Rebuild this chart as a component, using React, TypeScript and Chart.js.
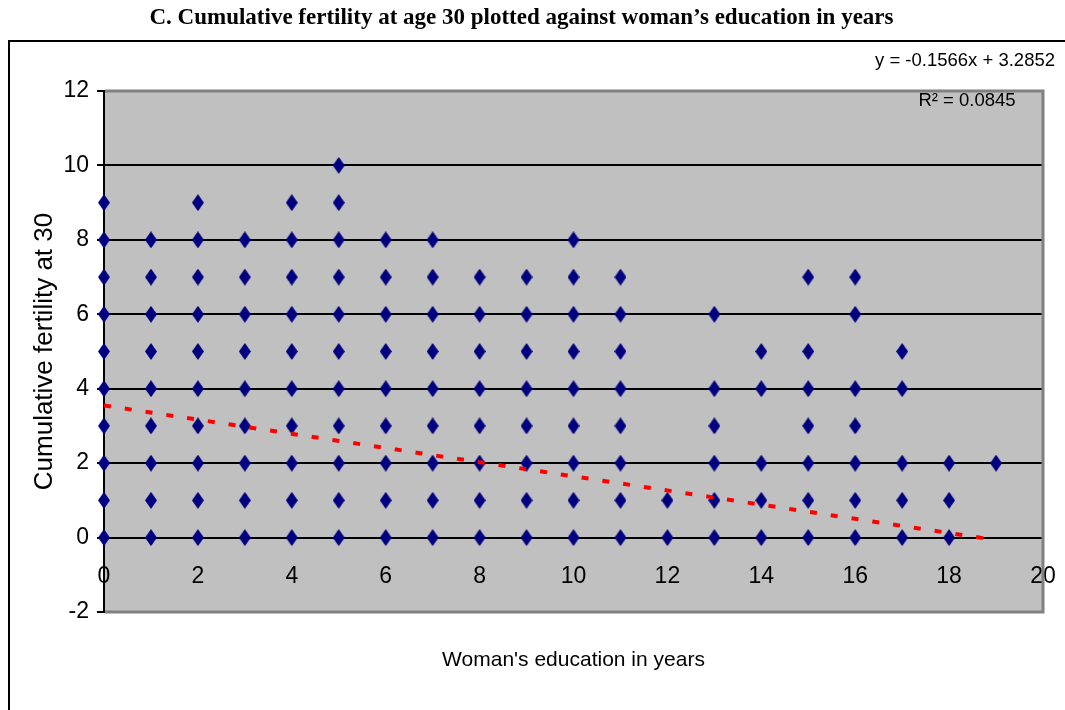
import React, { useEffect, useRef } from 'react';
import { Chart, registerables } from 'chart.js';

Chart.register(...registerables);

// ---------- text ----------
const chartTitle = 'C. Cumulative fertility at age 30 plotted against woman’s education in years';
const xAxisTitle = "Woman's education in years";
const yAxisTitle = 'Cumulative fertility at 30';
const trendEquation = 'y = -0.1566x + 3.2852';
const trendR2 = 'R² = 0.0845';

// ---------- data ----------
const educationYears = [0, 1, 2, 3, 4, 5, 6, 7, 8, 9, 10, 11, 12, 13, 14, 15, 16, 17, 18, 19];
const fertilityAtEducation: number[][] = [
  [0, 1, 2, 3, 4, 5, 6, 7, 8, 9], // 0
  [0, 1, 2, 3, 4, 5, 6, 7, 8], // 1
  [0, 1, 2, 3, 4, 5, 6, 7, 8, 9], // 2
  [0, 1, 2, 3, 4, 5, 6, 7, 8], // 3
  [0, 1, 2, 3, 4, 5, 6, 7, 8, 9], // 4
  [0, 1, 2, 3, 4, 5, 6, 7, 8, 9, 10], // 5
  [0, 1, 2, 3, 4, 5, 6, 7, 8], // 6
  [0, 1, 2, 3, 4, 5, 6, 7, 8], // 7
  [0, 1, 2, 3, 4, 5, 6, 7], // 8
  [0, 1, 2, 3, 4, 5, 6, 7], // 9
  [0, 1, 2, 3, 4, 5, 6, 7, 8], // 10
  [0, 1, 2, 3, 4, 5, 6, 7], // 11
  [0, 1], // 12
  [0, 1, 2, 3, 4, 6], // 13
  [0, 1, 2, 4, 5], // 14
  [0, 1, 2, 3, 4, 5, 7], // 15
  [0, 1, 2, 3, 4, 6, 7], // 16
  [0, 1, 2, 4, 5], // 17
  [0, 1, 2], // 18
  [2], // 19
];
const trendX = [0, 18.8];
const trendY = [3.55, -0.03];

const xMin = 0;
const xMax = 20;
const xStep = 2;
const yMin = -2;
const yMax = 12;
const yStep = 2;

// ---------- styles ----------
const narrowFont = "'Liberation Sans Narrow', 'Arial Narrow', 'Liberation Sans', Arial, sans-serif";
const sansFont = "'Liberation Sans', Arial, sans-serif";
const serifFont = "'Liberation Serif', 'Times New Roman', serif";

function makeDiamond(w: number, h: number, color: string): HTMLCanvasElement {
  const c = document.createElement('canvas');
  c.width = w;
  c.height = h;
  const g = c.getContext('2d') as CanvasRenderingContext2D;
  g.fillStyle = color;
  g.beginPath();
  g.moveTo(w / 2, 0);
  g.lineTo(w, h / 2);
  g.lineTo(w / 2, h);
  g.lineTo(0, h / 2);
  g.closePath();
  g.fill();
  return c;
}

const decorPlugin = {
  id: 'decor',
  beforeDraw(chart: any) {
    const { ctx, chartArea: a } = chart;
    ctx.save();
    ctx.fillStyle = '#C0C0C0';
    ctx.fillRect(a.left, a.top, a.right - a.left, a.bottom - a.top);
    ctx.strokeStyle = '#000000';
    ctx.lineWidth = 2;
    ctx.strokeRect(9, 41, 1200, 900);
    ctx.restore();
  },
  beforeDatasetsDraw(chart: any) {
    const { ctx, chartArea: a } = chart;
    ctx.save();
    ctx.strokeStyle = '#808080';
    ctx.lineWidth = 3;
    ctx.beginPath();
    ctx.moveTo(a.left + 1, a.top);
    ctx.lineTo(a.right, a.top);
    ctx.lineTo(a.right, a.bottom);
    ctx.lineTo(a.left + 1, a.bottom);
    ctx.stroke();
    ctx.restore();
  },
  afterDraw(chart: any) {
    const { ctx } = chart;
    ctx.save();
    ctx.fillStyle = '#000000';
    ctx.font = `18.5px ${sansFont}`;
    ctx.textBaseline = 'middle';
    ctx.textAlign = 'right';
    ctx.fillText(trendEquation, 1055, 61);
    ctx.textAlign = 'center';
    ctx.fillText(trendR2, 967, 101);
    ctx.restore();
  },
};

export default function App() {
  const canvasRef = useRef<HTMLCanvasElement | null>(null);

  useEffect(() => {
    document.body.style.margin = '0';
    const canvas = canvasRef.current;
    if (!canvas) return;

    const points: { x: number; y: number }[] = [];
    educationYears.forEach((edu, i) => {
      fertilityAtEducation[i].forEach((f) => points.push({ x: edu, y: f }));
    });
    const trendPoints = trendX.map((x, i) => ({ x, y: trendY[i] }));
    const diamond = makeDiamond(12, 17, '#000080');

    const chart = new Chart(canvas, {
      type: 'scatter',
      data: {
        datasets: [
          {
            label: 'Trend',
            data: trendPoints,
            showLine: true,
            borderColor: '#FF0000',
            borderWidth: 4,
            borderDash: [7, 14],
            borderCapStyle: 'butt',
            pointRadius: 0,
            fill: false,
            order: 0,
          } as any,
          {
            label: 'Fertility',
            data: points,
            pointStyle: diamond as any,
            pointRadius: 6,
            backgroundColor: '#000080',
            borderColor: '#000080',
            clip: false as any,
            order: 1,
          } as any,
        ],
      },
      options: {
        responsive: false,
        animation: false,
        devicePixelRatio: 1,
        layout: { padding: { left: 0, right: 22, top: 0, bottom: 98 } },
        plugins: {
          legend: { display: false },
          tooltip: { enabled: false },
          title: {
            display: true,
            text: chartTitle,
            color: '#000000',
            font: { family: serifFont, size: 23, weight: 'bold' },
            padding: { top: 4, bottom: 59.4 },
          },
        },
        scales: {
          x: {
            type: 'linear',
            position: { y: 0 } as any,
            min: xMin,
            max: xMax,
            afterFit(scale: any) {
              scale.paddingLeft = 0;
              scale.paddingRight = 0;
            },
            ticks: {
              stepSize: xStep,
              color: '#000000',
              font: { family: narrowFont, size: 23 },
              padding: 25,
            },
            grid: { display: false, drawTicks: false },
            border: { display: true, color: '#000000', width: 2 },
            title: {
              display: true,
              text: xAxisTitle,
              color: '#000000',
              font: { family: narrowFont, size: 21 },
              padding: { top: 32, bottom: 0 },
            },
          },
          y: {
            type: 'linear',
            position: 'left',
            min: yMin,
            max: yMax,
            afterFit(scale: any) {
              scale.width = 104;
            },
            ticks: {
              stepSize: yStep,
              color: '#000000',
              font: { family: narrowFont, size: 23 },
              padding: 8,
            },
            grid: {
              color: (c: any) =>
                c.tick && c.tick.value >= 0 && c.tick.value <= 10 ? '#000000' : 'rgba(0,0,0,0)',
              lineWidth: 2,
              tickColor: '#000000',
              tickLength: 7,
              drawTicks: true,
            },
            border: { display: true, color: '#000000', width: 2 },
            title: {
              display: true,
              text: yAxisTitle,
              color: '#000000',
              font: { family: sansFont, size: 26 },
              padding: { top: 29, bottom: 0 },
            },
          },
        },
      },
      plugins: [decorPlugin],
    });

    return () => chart.destroy();
  }, []);

  return <canvas ref={canvasRef} width={1065} height={710} style={{ display: 'block' }} />;
}
